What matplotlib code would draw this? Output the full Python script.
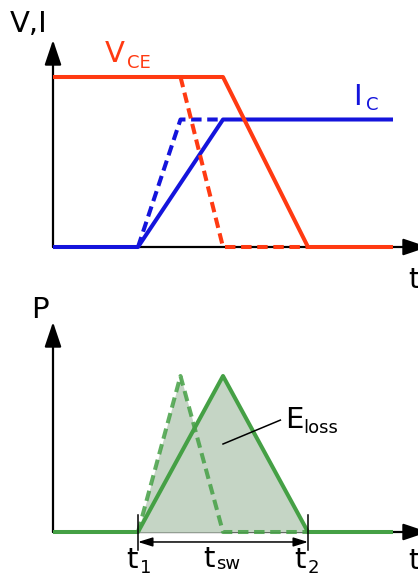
import matplotlib
matplotlib.use("Agg")
import matplotlib.pyplot as plt
from matplotlib.patches import ArrowStyle

# Switching waveforms (time in units, V normalised to 1)
t_vce_hard = [0, 4, 6, 8]
vce_hard = [1.0, 1.0, 0.0, 0.0]
t_ic_hard = [0, 2, 4, 8]
ic_hard = [0.0, 0.0, 0.75, 0.75]

t_vce_fast = [3, 4, 6]
vce_fast = [1.0, 0.0, 0.0]
t_ic_fast = [2, 3, 4]
ic_fast = [0.0, 0.75, 0.75]

# Instantaneous power
t_p_hard = [0, 2, 4, 6, 8]
p_hard = [0.0, 0.0, 0.75, 0.0, 0.0]
t_p_fast = [2, 3, 4, 6]
p_fast = [0.0, 0.75, 0.0, 0.0]

t_on, t_off = 2, 6

RED = "#ff3a12"
BLUE = "#1414dc"
GREEN = "#45a045"
FILL = "#c5d5c5"

W, H = 418, 578
fig = plt.figure(figsize=(W / 100, H / 100), dpi=100)
plt.rcParams["font.family"] = ["DejaVu Sans"]

def px_axes(x0, y0, x1, y1):
    return fig.add_axes([x0 / W, 1 - y1 / H, (x1 - x0) / W, (y1 - y0) / H])

head = ArrowStyle("-|>", head_length=0.95, head_width=0.32)

def draw_axes_arrows(ax, xmax, ymax):
    ax.annotate("", xy=(xmax, 0), xytext=(0, 0), annotation_clip=False,
                arrowprops=dict(arrowstyle=head, mutation_scale=16, lw=1.6,
                                color="black", shrinkA=0, shrinkB=0), zorder=1)
    ax.annotate("", xy=(0, ymax), xytext=(0, 0), annotation_clip=False,
                arrowprops=dict(arrowstyle=head, mutation_scale=16, lw=1.6,
                                color="black", shrinkA=0, shrinkB=0), zorder=1)

LW = 2.9
DASH = (0, (2.6, 1.4))

# ---- upper panel: V_CE and I_C ----
ax1 = px_axes(53, 40, 418, 247)
ax1.set_xlim(0, 365 / 42.5)
ax1.set_ylim(0, 207 / 170)
ax1.axis("off")
draw_axes_arrows(ax1, 375 / 42.5, 207 / 170)
ax1.plot(t_ic_hard, ic_hard, color=BLUE, lw=LW, clip_on=False, zorder=3,
         solid_capstyle="butt")
ax1.plot(t_vce_hard, vce_hard, color=RED, lw=LW, clip_on=False, zorder=3,
         solid_capstyle="butt")
ax1.plot(t_ic_fast, ic_fast, color=BLUE, lw=LW, ls=DASH, clip_on=False, zorder=4)
ax1.plot(t_vce_fast, vce_fast, color=RED, lw=LW, ls=DASH, clip_on=False, zorder=4)

# ---- lower panel: power loss ----
ax2 = px_axes(53, 322, 418, 532)
ax2.set_xlim(0, 365 / 42.5)
ax2.set_ylim(0, 210 / 208)
ax2.axis("off")
draw_axes_arrows(ax2, 375 / 42.5, 210 / 208)
ax2.fill_between(t_p_fast, p_fast, color=FILL, lw=0, zorder=2)
ax2.fill_between(t_p_hard, p_hard, color=FILL, lw=0, zorder=2)
ax2.plot(t_p_fast, p_fast, color=GREEN, lw=LW, ls=DASH, alpha=0.85,
         clip_on=False, zorder=3)
ax2.plot(t_p_hard, p_hard, color=GREEN, lw=LW, clip_on=False, zorder=4,
         solid_capstyle="butt")

# switching-time dimension
for tt in (t_on, t_off):
    ax2.plot([tt, tt], [0.082, -0.087], color="black", lw=1.1, clip_on=False,
             zorder=5)
ax2.annotate("", xy=(t_off, -0.048), xytext=(t_on, -0.048), annotation_clip=False,
             arrowprops=dict(arrowstyle=ArrowStyle("<|-|>", head_length=0.8,
                                                   head_width=0.25),
                             mutation_scale=11, lw=1.1, color="black",
                             shrinkA=0, shrinkB=0))
# E_loss leader
ax2.plot([4.0, 5.35], [0.423, 0.538], color="black", lw=1.1, zorder=5)

# ---- labels ----
ov = fig.add_axes([0, 0, 1, 1])
ov.set_xlim(0, W)
ov.set_ylim(H, 0)
ov.axis("off")

BIG = 21
SUB = 13

def lbl(x, y, s, size=BIG, color="black"):
    ov.text(x, y, s, fontsize=size, color=color, ha="left", va="baseline")

lbl(10, 32, "V,I")
lbl(105, 62, "V", color=RED)
lbl(127, 68, "CE", size=SUB, color=RED)
lbl(353, 105, "I", color=BLUE)
lbl(366, 110, "C", size=SUB, color=BLUE)
lbl(408, 288, "t")

lbl(31, 318, "P")
lbl(408, 569, "t")
lbl(285, 428, "E")
lbl(303, 433, "loss", size=SUB)
lbl(126, 568, "t")
lbl(140, 573, "1", size=SUB)
lbl(203, 567, "t")
lbl(216, 569, "sw", size=SUB)
lbl(294, 568, "t")
lbl(308, 573, "2", size=SUB)

fig.savefig("out.png", dpi=100)
